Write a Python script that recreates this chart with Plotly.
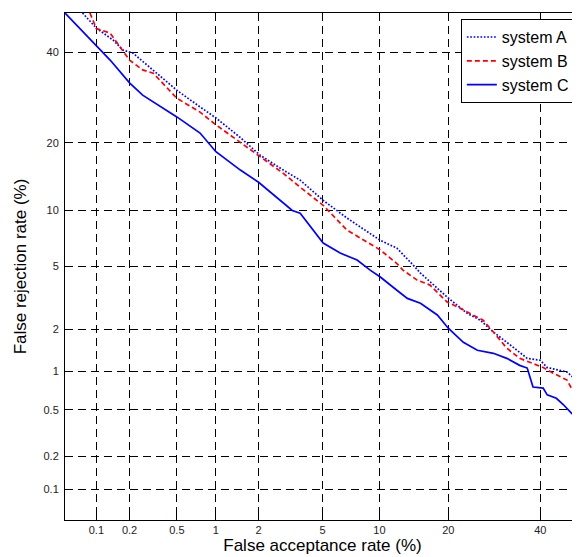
import plotly.graph_objects as go
from statistics import NormalDist

# ---- data (percent) ----
sysA_far = [0.074, 0.1, 0.143, 0.175, 0.215, 0.32, 0.5, 0.76, 1.0, 1.49, 2.05, 2.9, 3.69, 5.04, 6.83, 10.1, 12.1, 14.3,
            15.4, 19.8, 23.5, 26.2, 29, 33.5, 36.8, 40, 41.7, 46.7, 50]
sysA_frr = [50, 46.1, 43, 40.5, 39.7, 35.6, 30.8, 27.1, 24.8, 21, 17.8, 15.4, 13.9, 11.2, 9.16, 7.0, 6.35, 5.1,
            4.57, 3.26, 2.57, 2.31, 1.92, 1.5, 1.25, 1.21, 1.07, 0.99, 0.81]

sysB_far = [0.087, 0.1, 0.134, 0.164, 0.2, 0.26, 0.32, 0.5, 0.76, 1.0, 1.49, 2.05, 2.9, 3.69, 5.04, 6.83, 10.1, 12.1,
            12.9, 14.9, 16.9, 19.8, 22.2, 24.7, 26.8, 29, 32, 35, 38.2, 40.7, 43.2, 46.7, 47.8, 50]
sysB_frr = [50, 46, 44.8, 41.3, 38, 35.6, 34.8, 29, 26, 23.4, 20.1, 17.5, 14.9, 12.9, 10.6, 7.94, 6.2, 5.2,
            4.76, 4.15, 3.87, 3.03, 2.77, 2.5, 2.31, 1.92, 1.48, 1.25, 1.15, 1.07, 0.97, 0.86, 0.745, 0.69]

sysC_far = [0.05, 0.1, 0.134, 0.2, 0.26, 0.5, 0.76, 1.0, 1.5, 2.0, 2.77, 3.3, 3.69, 4.41, 5.04, 6.27, 7.72, 9.0,
            10.1, 12.1, 13.5, 15.4, 18.1, 20, 22.8, 25.6, 29, 32, 35, 36.8, 38.2, 40.7, 41.7, 44, 45.8, 47.8, 50]
sysC_frr = [50, 41.5, 38, 32.5, 29.7, 25, 21.8, 18.4, 15.4, 13.6, 11.2, 10, 9.7, 7.94, 6.77, 5.96, 5.44, 4.76,
            4.33, 3.6, 3.2, 2.98, 2.5, 2.04, 1.63, 1.43, 1.36, 1.25, 1.11, 1.06, 0.76, 0.745, 0.66, 0.62, 0.55, 0.47, 0.41]

tick_vals = [0.1, 0.2, 0.5, 1, 2, 5, 10, 20, 40]
tick_text = ["0.1", "0.2", "0.5", "1", "2", "5", "10", "20", "40"]
axis_limits = [0.05, 50]

nd = NormalDist()


def probit(values):
    return [nd.inv_cdf(v / 100.0) for v in values]


FONT = "Liberation Sans, Arial"

fig = go.Figure()
fig.add_trace(go.Scatter(x=probit(sysA_far), y=probit(sysA_frr), mode="lines", name="system A",
                         line=dict(color="#0000ff", width=1.7, dash="1.7px,1.7px")))
fig.add_trace(go.Scatter(x=probit(sysB_far), y=probit(sysB_frr), mode="lines", name="system B",
                         line=dict(color="#ff0000", width=1.7, dash="5px,3px")))
fig.add_trace(go.Scatter(x=probit(sysC_far), y=probit(sysC_frr), mode="lines", name="system C",
                         line=dict(color="#0000ff", width=1.7)))

axis_common = dict(
    tickvals=probit(tick_vals), ticktext=tick_text, range=probit(axis_limits),
    showgrid=True, gridcolor="#000000", gridwidth=1, griddash="8px,5px",
    showline=True, linecolor="#000000", linewidth=1, mirror=True,
    ticks="inside", ticklen=5, tickcolor="#000000", automargin=False,
    zeroline=False, tickfont=dict(family=FONT, size=11, color="#222222"),
)

fig.update_xaxes(**axis_common, title=dict(text="False acceptance rate (%)",
                                           font=dict(family=FONT, size=17, color="#000000"),
                                           standoff=0))
fig.update_yaxes(**axis_common, ticklabelstandoff=3,
                 title=dict(text="False rejection rate (%)",
                            font=dict(family=FONT, size=17, color="#000000"),
                            standoff=12))

fig.update_layout(
    width=572, height=549,
    margin=dict(l=57, r=0, t=5, b=37),
    paper_bgcolor="white", plot_bgcolor="white",
    showlegend=True,
    legend=dict(x=0.99, y=0.988, xanchor="right", yanchor="top",
                bgcolor="white", bordercolor="#000000", borderwidth=1,
                font=dict(family=FONT, size=16, color="#000000"),
                tracegroupgap=0),
)

fig.write_html("out.html")
